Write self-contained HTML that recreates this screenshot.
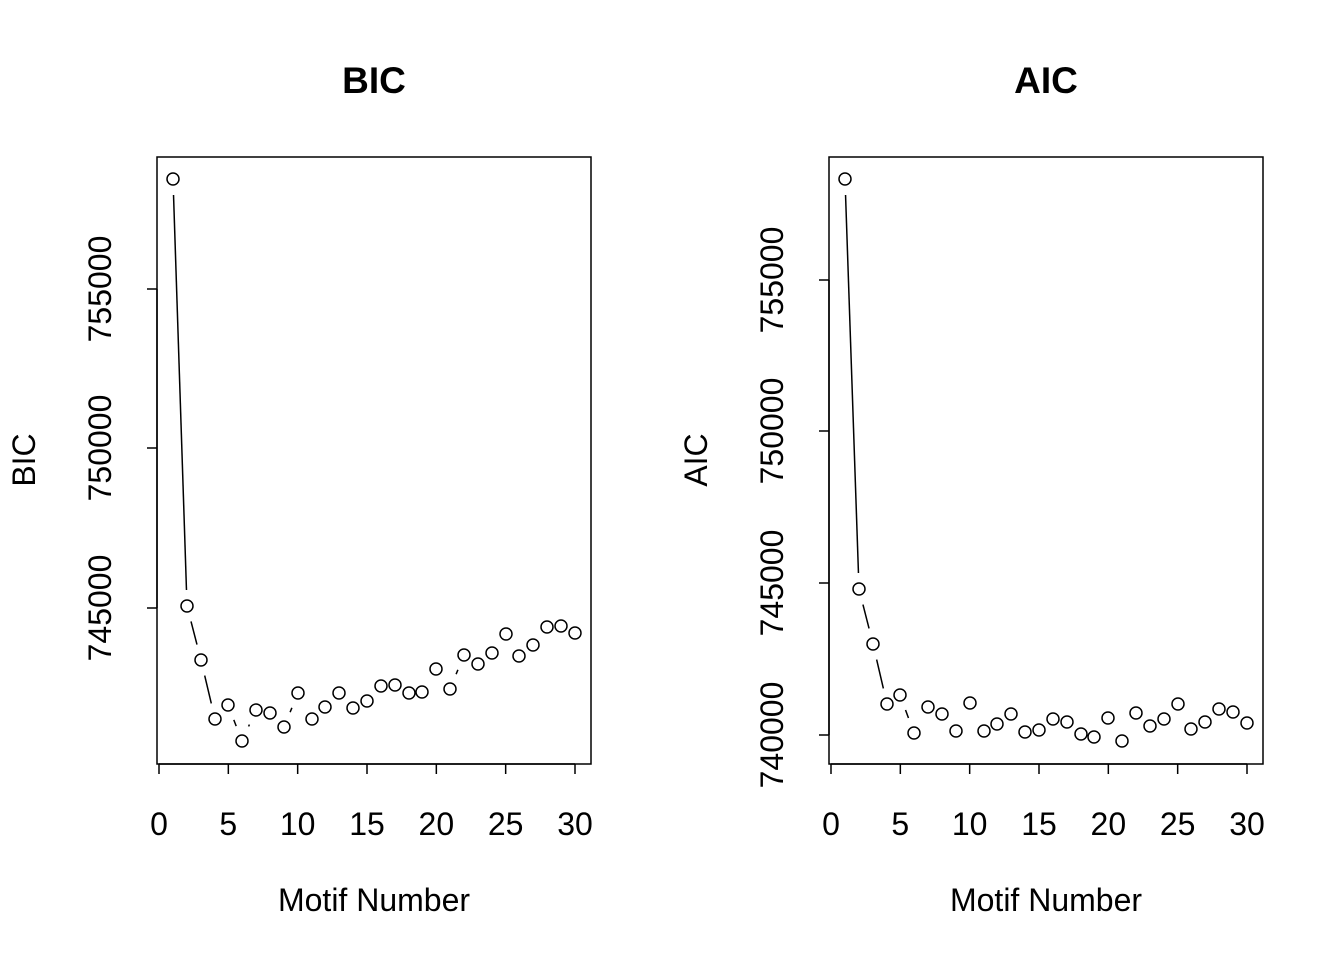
<!DOCTYPE html>
<html><head><meta charset="utf-8"><style>
html,body{margin:0;padding:0;background:#fff;}
svg text{font-family:"Liberation Sans",Arial,sans-serif;fill:#000;}
</style></head><body>
<svg id="s" width="1344" height="960" xmlns="http://www.w3.org/2000/svg"></svg>
<script>
var s=document.getElementById('s');var h='';
var L=[[173,179],[187,606],[201,660],[215,719],[228,705],[242,741],[256,710],[270,713],[284,727],[298,693],[312,719],[325,707],[339,693],[353,708],[367,701],[381,686],[395,685],[409,693],[422,692],[436,669],[450,689],[464,655],[478,664],[492,653],[506,634],[519,656],[533,645],[547,627],[561,626],[575,633]];
var R=[[845,179],[859,589],[873,644],[887,704],[900,695],[914,733],[928,707],[942,714],[956,731],[970,703],[984,731],[997,724],[1011,714],[1025,732],[1039,730],[1053,719],[1067,722],[1081,734],[1094,737],[1108,718],[1122,741],[1136,713],[1150,726],[1164,719],[1178,704],[1191,729],[1205,722],[1219,709],[1233,712],[1247,723]];
function panel(off,pts,title,yl,yt){
 var x0=157+off,x1=591+off;
 h+='<rect x="'+x0+'" y="157" width="434" height="607" fill="none" stroke="#000" stroke-width="1.5"/>';
 h+='<text x="'+(374+off)+'" y="93" font-size="37" font-weight="bold" text-anchor="middle">'+title+'</text>';
 h+='<text x="'+(374+off)+'" y="911" font-size="32" text-anchor="middle">Motif Number</text>';
 h+='<text transform="translate('+(35+off)+',460) rotate(-90)" font-size="32" text-anchor="middle">'+yl+'</text>';
 h+='<line x1="'+(159+off)+'" y1="764" x2="'+(575+off)+'" y2="764" stroke="#000" stroke-width="1.5"/>';
 for(var i=0;i<=6;i++){var x=159+off+i*416/6;
  h+='<line x1="'+x+'" y1="764" x2="'+x+'" y2="774" stroke="#000" stroke-width="1.5"/>';
  h+='<text x="'+x+'" y="835" font-size="32" text-anchor="middle">'+(i*5)+'</text>';}
 var ys=yt.map(function(t){return t[1]});
 h+='<line x1="'+x0+'" y1="'+Math.min.apply(0,ys)+'" x2="'+x0+'" y2="'+Math.max.apply(0,ys)+'" stroke="#000" stroke-width="1.5"/>';
 yt.forEach(function(t){
  h+='<line x1="'+x0+'" y1="'+t[1]+'" x2="'+(x0-10)+'" y2="'+t[1]+'" stroke="#000" stroke-width="1.5"/>';
  h+='<text transform="translate('+(x0-46)+','+t[1]+') rotate(-90)" font-size="32" text-anchor="middle">'+t[0]+'</text>';});
 var g=16;
 for(var i=0;i<pts.length-1;i++){var a=pts[i],b=pts[i+1],dx=b[0]-a[0],dy=b[1]-a[1],d=Math.sqrt(dx*dx+dy*dy);
  if(d>2*g){var ux=dx/d,uy=dy/d;h+='<line x1="'+(a[0]+ux*g)+'" y1="'+(a[1]+uy*g)+'" x2="'+(b[0]-ux*g)+'" y2="'+(b[1]-uy*g)+'" stroke="#000" stroke-width="1.5"/>';}}
 pts.forEach(function(p){h+='<circle cx="'+p[0]+'" cy="'+p[1]+'" r="6" fill="none" stroke="#000" stroke-width="1.5"/>';});
}
panel(0,L,'BIC','BIC',[['745000',608],['750000',448],['755000',289]]);
panel(672,R,'AIC','AIC',[['740000',735],['745000',583],['750000',431],['755000',280]]);
s.innerHTML=h;
</script>
</body></html>
